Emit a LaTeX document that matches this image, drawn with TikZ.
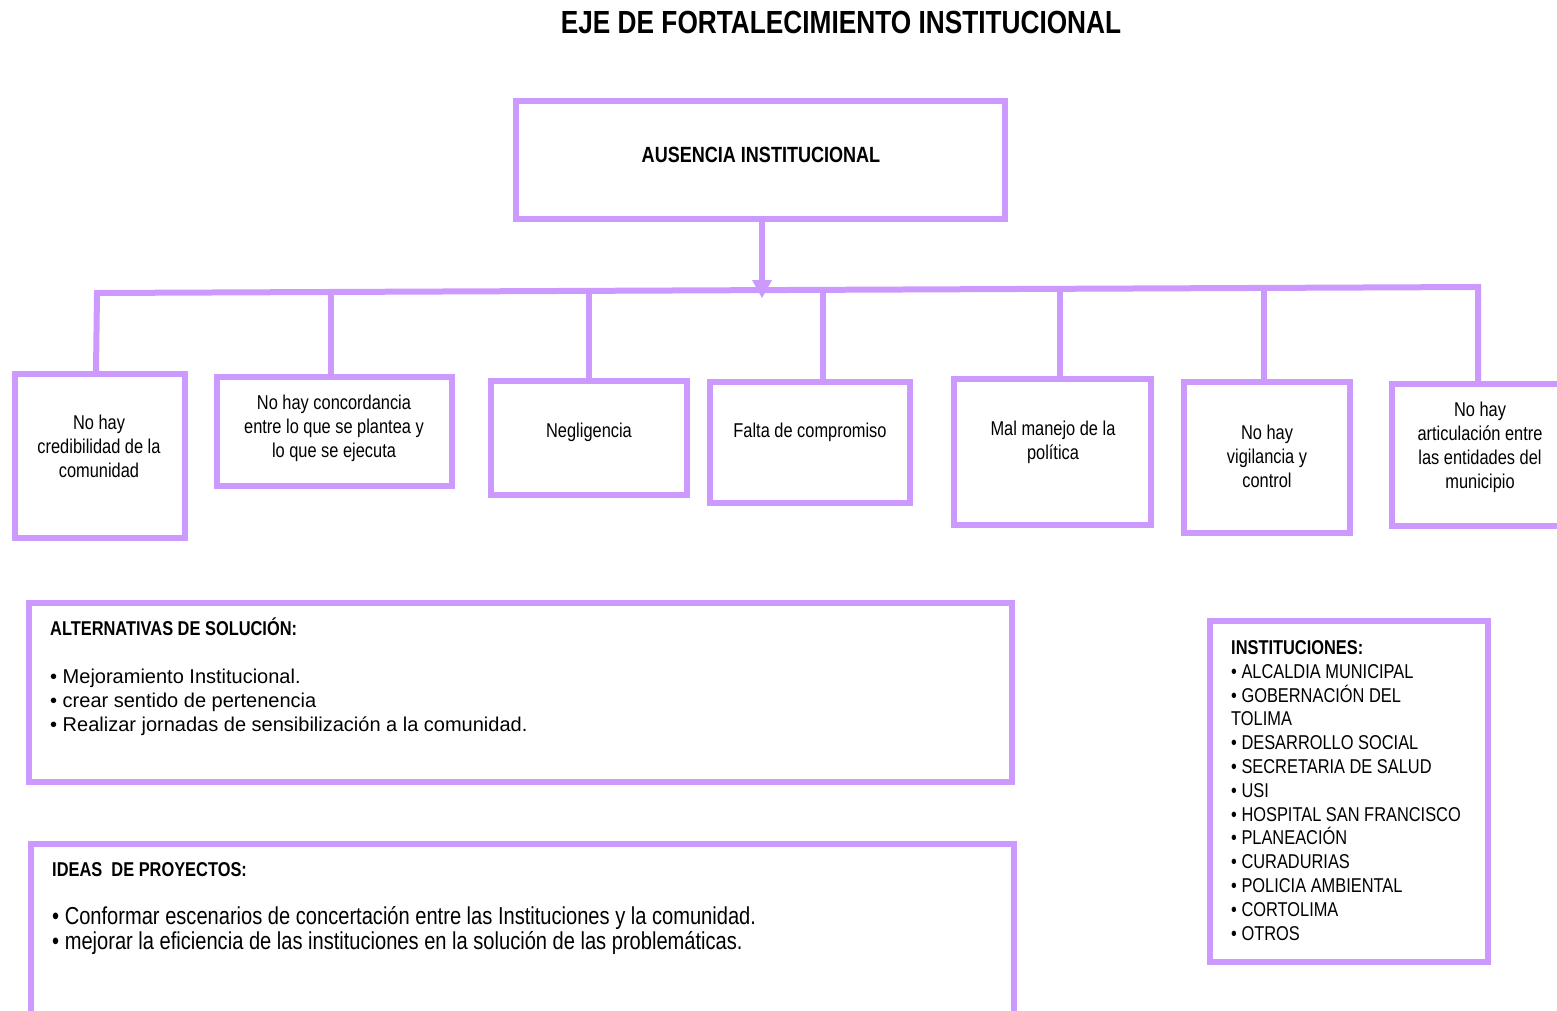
\documentclass[tikz,border=0pt]{standalone}
\usepackage{fontspec}
\setmainfont{Liberation Sans}
\newfontfamily\narrowfont[FakeStretch=0.82]{Liberation Sans}
\usetikzlibrary{arrows.meta}
\definecolor{lav}{HTML}{CC99FF}
\begin{document}
\begin{tikzpicture}[x=1pt,y=-1pt,
  box/.style={draw=lav,line width=6pt,inner sep=0pt},
  link/.style={draw=lav,line width=6pt},
  cause/.style={font=\narrowfont\fontsize{20}{24}\selectfont,align=center,inner sep=0pt,
    execute at begin node=\strut,execute at end node=\strut},
  head/.style={font=\narrowfont\bfseries\fontsize{20}{24}\selectfont,anchor=base west,inner sep=0pt},
  list/.style={align=left,anchor=north west,inner sep=0pt,execute at begin node=\strut}]
\useasboundingbox (0,0) rectangle (1557,1011);

% title
\node[font=\narrowfont\bfseries\fontsize{32}{38}\selectfont] (title) at (841,22) {EJE DE FORTALECIMIENTO INSTITUCIONAL};

% main problem
\node[box,minimum width=489pt,minimum height=118pt] (main) at (760.5,160) {};
\node[font=\narrowfont\bfseries\fontsize{22}{26}\selectfont] (mainT) at (761,155) {AUSENCIA INSTITUCIONAL};

% causes
\node[box,minimum width=170pt,minimum height=164pt] (b1) at (100,456) {};
\node[box,minimum width=235pt,minimum height=109pt] (b2) at (334.5,431.5) {};
\node[box,minimum width=196pt,minimum height=114pt] (b3) at (589,438) {};
\node[box,minimum width=200pt,minimum height=121pt] (b4) at (810,442.5) {};
\node[box,minimum width=197pt,minimum height=146pt] (b5) at (1052.5,452) {};
\node[box,minimum width=166pt,minimum height=151pt] (b6) at (1267,457.5) {};
\node[box,minimum width=178pt,minimum height=142pt] (b7) at (1481,455) {};

\node[cause] (t1) at (99,450) {No hay\\credibilidad de la\\comunidad};
\node[cause] (t2) at (334,430) {No hay concordancia\\entre lo que se plantea y\\lo que se ejecuta};
\node[cause] (t3) at (589,433) {Negligencia};
\node[cause] (t4) at (810,433) {Falta de compromiso};
\node[cause] (t5) at (1053,444) {Mal manejo de la\\política};
\node[cause] (t6) at (1267,460) {No hay\\vigilancia y\\control};
\node[cause] (t7) at (1480,449) {No hay\\articulación entre\\las entidades del\\municipio};

% connectors
\coordinate (bL) at (97,293);
\coordinate (bR) at (1478,287);
\coordinate (d2) at (331,292);
\coordinate (d3) at (589,291);
\coordinate (d4) at (823,290);
\coordinate (d5) at (1060,289);
\coordinate (d6) at (1264,288);
\coordinate (tip) at (762,298);
\draw[link,line join=miter] ([xshift=-4pt]b1.north) -- (bL) -- (bR) -- (bR |- b7.north);
\draw[link] (d2) -- (d2 |- b2.north);
\draw[link] (d3) -- (d3 |- b3.north);
\draw[link] (d4) -- (d4 |- b4.north);
\draw[link] (d5) -- (d5 |- b5.north);
\draw[link] (d6) -- (d6 |- b6.north);
\draw[link,-{Triangle[width=20pt,length=18pt,line width=0pt]}] ([xshift=1.5pt]main.south) -- (tip);

% alternativas
\node[box,minimum width=983pt,minimum height=179pt] (alt) at (520.5,692.5) {};
\node[head] (altH) at (50,635) {ALTERNATIVAS DE SOLUCIÓN:};
\node[list,font=\fontsize{20}{24}\selectfont] (altL) at (50,669.2)
  {• Mejoramiento Institucional.\\• crear sentido de pertenencia\\• Realizar jornadas de sensibilización a la comunidad.};

% ideas
\node[box,minimum width=983pt,minimum height=176pt] (ideas) at (522.5,932) {};
\node[head] (ideasH) at (52,876) {IDEAS\ \ DE PROYECTOS:};
\node[list,font=\narrowfont\fontsize{24.5}{25}\selectfont] (ideasL) at (52,906)
  {• Conformar escenarios de concertación entre las Instituciones y la comunidad.\\• mejorar la eficiencia de las instituciones en la solución de las problemáticas.};

% instituciones
\node[box,minimum width=278pt,minimum height=341pt] (inst) at (1349,791.5) {};
\node[list,font=\narrowfont\fontsize{20}{23.8}\selectfont] (instL) at (1231,640.3)
  {\textbf{INSTITUCIONES:}\\• ALCALDIA MUNICIPAL\\• GOBERNACIÓN DEL\\TOLIMA\\• DESARROLLO SOCIAL\\• SECRETARIA DE SALUD\\• USI\\• HOSPITAL SAN FRANCISCO\\• PLANEACIÓN\\• CURADURIAS\\• POLICIA AMBIENTAL\\• CORTOLIMA\\• OTROS};
\end{tikzpicture}
\end{document}
